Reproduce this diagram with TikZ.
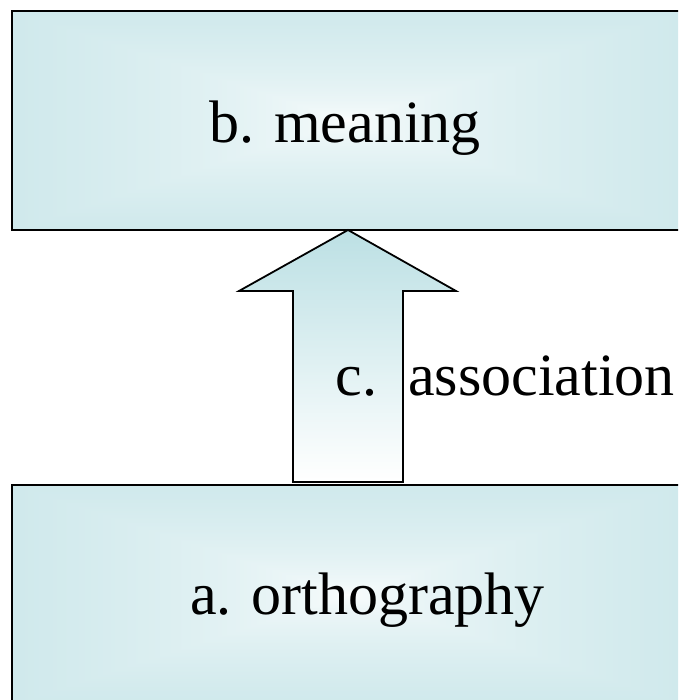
\documentclass[tikz,border=0pt]{standalone}
\usepackage{fontspec}
\setmainfont{Liberation Serif}
\usetikzlibrary{calc}
\definecolor{boxblue}{RGB}{188,224,228}
\pgfdeclarefunctionalshading{rectgrad}{\pgfpoint{-50bp}{-50bp}}{\pgfpoint{50bp}{50bp}}{}{
  abs 50 div exch abs 50 div 2 copy lt {exch} if pop
  sqrt
  dup 0.263 mul 1 exch sub exch
  dup 0.122 mul 1 exch sub exch
  0.106 mul 1 exch sub
}
\tikzset{
  box/.style={draw=black, line width=2.5pt, shading=rectgrad, rectangle,
    minimum width=672pt, minimum height=219pt, inner sep=0pt, outer sep=0pt},
  lbl/.style={inner sep=0pt, outer sep=0pt, font=\fontsize{60}{72}\selectfont},
  bigarrow/.style={draw=black, line width=1.8pt, line join=miter,
    top color=boxblue, bottom color=white}
}
\begin{document}
\begin{tikzpicture}[x=1pt,y=1pt]
\useasboundingbox (0,0) rectangle (678,700);
\clip (0,0) rectangle (678,700);
\fill[white] (0,0) rectangle (678,700);
\node[box] (top) at (348,579.5) {};
\node[box] (bot) at (348,105.5) {};
\coordinate (tip) at (top.south);
\path[bigarrow] (tip) -- ++(108,-61) -- ++(-53,0) -- ++(0,-191) -- ++(-110,0)
  -- ++(0,191) -- ++(-54,0) -- cycle;
\node[lbl, anchor=base] (tb) at (345,557) {b. meaning};
\node[lbl, anchor=base west] (ta) at (190,85) {a. orthography};
\node[lbl, anchor=base west] (tc) at (335.5,304) {c.\hspace{31pt}association};
\end{tikzpicture}
\end{document}
